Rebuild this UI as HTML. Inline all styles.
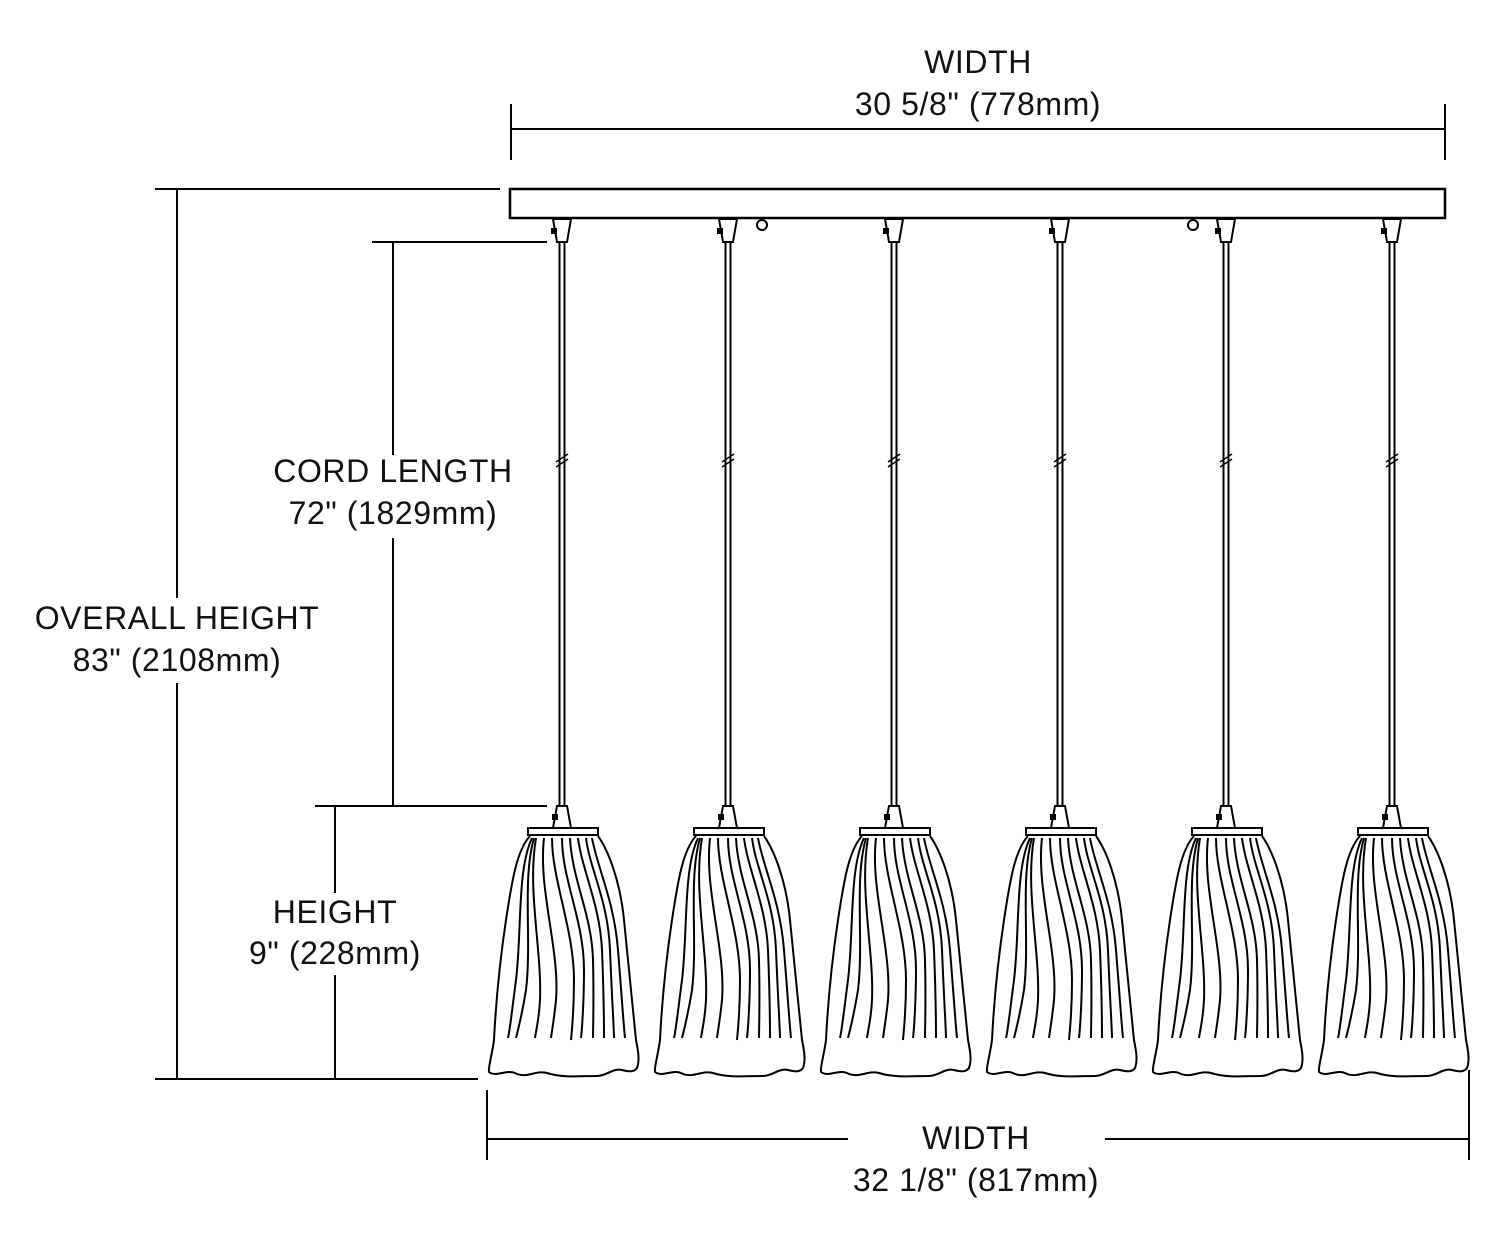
<!DOCTYPE html>
<html><head><style>
html,body{margin:0;padding:0;background:#fff}
svg{display:block}
text{font-family:"Liberation Sans",Arial,sans-serif;font-size:32px;letter-spacing:0.6px;fill:#111;text-anchor:middle}
</style></head><body>
<svg width="1500" height="1248" viewBox="0 0 1500 1248" xmlns="http://www.w3.org/2000/svg">
<defs>
<g id="p" fill="none" stroke="#000" stroke-width="2">
  <path d="M-9,219 L9,219 L5,242 L-5,242 Z" fill="#fff"/>
  <rect x="-11" y="228" width="6" height="6" fill="#000" stroke="none"/>
  <line x1="-2.5" y1="242" x2="-2.5" y2="806"/>
  <line x1="2.5" y1="242" x2="2.5" y2="806"/>
  <line x1="-6" y1="462" x2="6" y2="454" stroke-width="1.5"/>
  <line x1="-6" y1="467" x2="6" y2="459" stroke-width="1.5"/>
  <path d="M-5,806 L5,806 L9,828 L-9,828 Z" fill="#fff"/>
  <rect x="-10" y="814" width="6" height="6" fill="#000" stroke="none"/>
  <rect x="-34" y="828" width="70" height="7" fill="#fff"/>
  <path d="M-32,836 C-45,850 -50,880 -56,920 C-62,960 -66,1000 -68,1040 C-70,1055 -74,1068 -73,1072 C-65,1078 -55,1068 -45,1074 C-35,1078 -25,1070 -15,1073 C0,1078 20,1076 35,1076 C45,1076 50,1068 60,1070 C68,1072 72,1072 75,1068 C78,1060 76,1050 74,1040 C70,1000 66,960 62,920 C58,880 46,850 36,836"/>
  <path d="M-30,838 C-45,870 -40,930 -46,980 C-50,1010 -52,1030 -54,1038"/>
  <path d="M-28,838 C-40,880 -30,940 -36,990 C-40,1015 -44,1030 -46,1038"/>
  <path d="M-26,838 C-35,890 -20,950 -22,1000 C-23,1020 -26,1030 -27,1038"/>
  <path d="M-18,838 C-24,890 -2,950 -6,1000 C-8,1020 -10,1030 -11,1038"/>
  <path d="M-10,838 C-10,880 12,930 12,980 C12,1010 10,1030 9,1040"/>
  <path d="M0,838 C0,880 22,920 22,970 C22,1000 20,1030 19,1038"/>
  <path d="M8,838 C10,880 30,915 31,960 C32,1000 31,1030 31,1038"/>
  <path d="M16,838 C20,870 38,905 40,950 C42,1000 42,1030 42,1038"/>
  <path d="M24,838 C28,870 46,900 48,950 C50,1000 52,1030 52,1038"/>
  <path d="M30,838 C36,870 52,900 56,950 C60,1000 62,1030 63,1038"/>
</g>
</defs>
<text x="978" y="73">WIDTH</text>
<text x="978" y="115">30 5/8" (778mm)</text>
<line x1="511" y1="104" x2="511" y2="160" stroke="#000" stroke-width="2"/>
<line x1="1445" y1="104" x2="1445" y2="160" stroke="#000" stroke-width="2"/>
<line x1="511" y1="129" x2="1445" y2="129" stroke="#000" stroke-width="2"/>
<rect x="510" y="189" width="935" height="29" fill="#fff" stroke="#000" stroke-width="2.5"/>
<circle cx="762" cy="225" r="5" fill="#fff" stroke="#000" stroke-width="2"/>
<circle cx="1193" cy="225" r="5" fill="#fff" stroke="#000" stroke-width="2"/>
<use href="#p" x="562"/>
<use href="#p" x="728"/>
<use href="#p" x="894"/>
<use href="#p" x="1060"/>
<use href="#p" x="1226"/>
<use href="#p" x="1392"/>
<g stroke="#000" stroke-width="2">
<line x1="155" y1="189" x2="500" y2="189"/>
<line x1="177" y1="189" x2="177" y2="1079"/>
<line x1="155" y1="1079" x2="478" y2="1079"/>
<line x1="372" y1="242" x2="547" y2="242"/>
<line x1="393" y1="242" x2="393" y2="455"/>
<line x1="393" y1="538" x2="393" y2="806"/>
<line x1="315" y1="806" x2="547" y2="806"/>
<line x1="335" y1="806" x2="335" y2="893"/>
<line x1="335" y1="975" x2="335" y2="1079"/>
<line x1="487" y1="1090" x2="487" y2="1160"/>
<line x1="1469" y1="1070" x2="1469" y2="1160"/>
<line x1="487" y1="1139" x2="848" y2="1139"/>
<line x1="1105" y1="1139" x2="1469" y2="1139"/>
</g>
<rect x="170" y="598" width="14" height="85" fill="#fff"/>
<text x="177" y="629">OVERALL HEIGHT</text>
<text x="177" y="671">83" (2108mm)</text>
<text x="393" y="482">CORD LENGTH</text>
<text x="393" y="524">72" (1829mm)</text>
<text x="335" y="923">HEIGHT</text>
<text x="335" y="964">9" (228mm)</text>
<text x="976" y="1149">WIDTH</text>
<text x="976" y="1191">32 1/8" (817mm)</text>
</svg>
</body></html>
